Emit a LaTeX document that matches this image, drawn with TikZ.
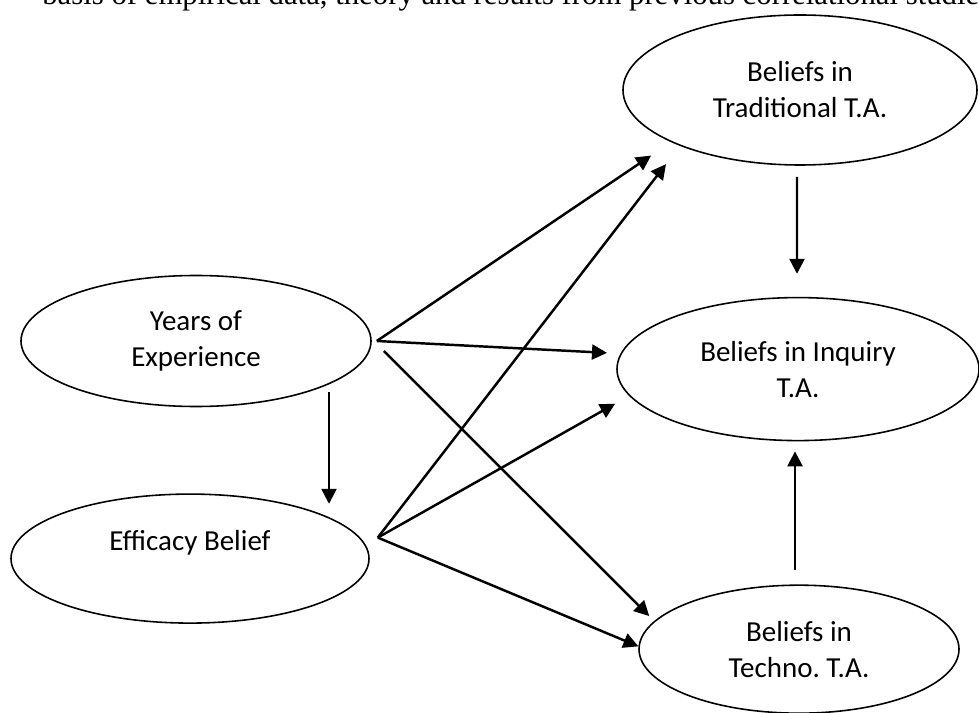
\documentclass[tikz,border=0pt]{standalone}
\usepackage{fontspec}
\setmainfont{Carlito}
\newfontfamily\bodyfont{Liberation Serif}
\usetikzlibrary{shapes.geometric,arrows.meta,positioning}
\frenchspacing

\begin{document}
\begin{tikzpicture}[x=0.2mm, y=-0.2mm]
\tikzstyle{var}=[ellipse, draw=black, line width=0.9pt, inner sep=0pt, align=center, font=\fontsize{16.5}{20.5}\selectfont]
\tikzstyle{connect}=[-{Triangle[length=3mm, width=3mm]}, line width=1.4pt]
  \useasboundingbox (0,0) rectangle (979,713);
  \clip (0,0) rectangle (979,713);
  % text of the page above
  \node[anchor=base west, inner sep=0pt, font=\bodyfont\fontsize{17.5}{20}\selectfont] (intro) at (42,5) {basis of empirical data, theory and results from previous correlational studies};
  % years
  \node[var, minimum width=70mm, minimum height=26.2mm] (years) at (196,341) {Years of\\Experience};
  % efficacy
  \node[var, minimum width=71.6mm, minimum height=25.8mm] (efficacy) [below=17.2mm of years, xshift=-1.2mm] {Efficacy Belief\\\mbox{}};
  % traditional
  \node[var, minimum width=70.8mm, minimum height=30mm] (trad) at (800,90) {Beliefs in\\Traditional T.A.};
  % inquiry
  \node[var, minimum width=72.4mm, minimum height=28.6mm] (inquiry) [below=26.2mm of trad, xshift=-0.4mm] {Beliefs in Inquiry\\T.A.};
  % techno
  \node[var, minimum width=64mm, minimum height=25.6mm] (techno) [below=28.6mm of inquiry, xshift=0.2mm] {Beliefs in\\Techno. T.A.};
  \path ([xshift=1mm]years.east) edge [connect, shorten >=4.8mm] (trad.202)
        ([xshift=1mm]years.east) edge [connect, shorten >=2.7mm] (inquiry.175)
        ([xshift=2.4mm, yshift=-2mm]years.east) edge [connect, shorten >=1.4mm] (techno.169)
        ([xshift=1.6mm, yshift=4.2mm]efficacy.east) edge [connect, shorten >=4.6mm] (trad.205)
        ([xshift=1.6mm, yshift=4.2mm]efficacy.east) edge [connect, shorten >=3.2mm] (inquiry.189)
        ([xshift=1.6mm, yshift=4.2mm]efficacy.east) edge [connect] (techno.179)
        ([xshift=26.6mm, yshift=3mm]years.south) edge [connect] ([xshift=27.8mm, yshift=-2.1mm]efficacy.north)
        ([xshift=-0.6mm, yshift=-2.2mm]trad.south) edge [connect] ([xshift=-0.2mm, yshift=4.6mm]inquiry.north)
        ([xshift=-0.8mm, yshift=2.8mm]techno.north) edge [connect] ([xshift=-0.6mm, yshift=-2mm]inquiry.south);
\end{tikzpicture}
\end{document}
